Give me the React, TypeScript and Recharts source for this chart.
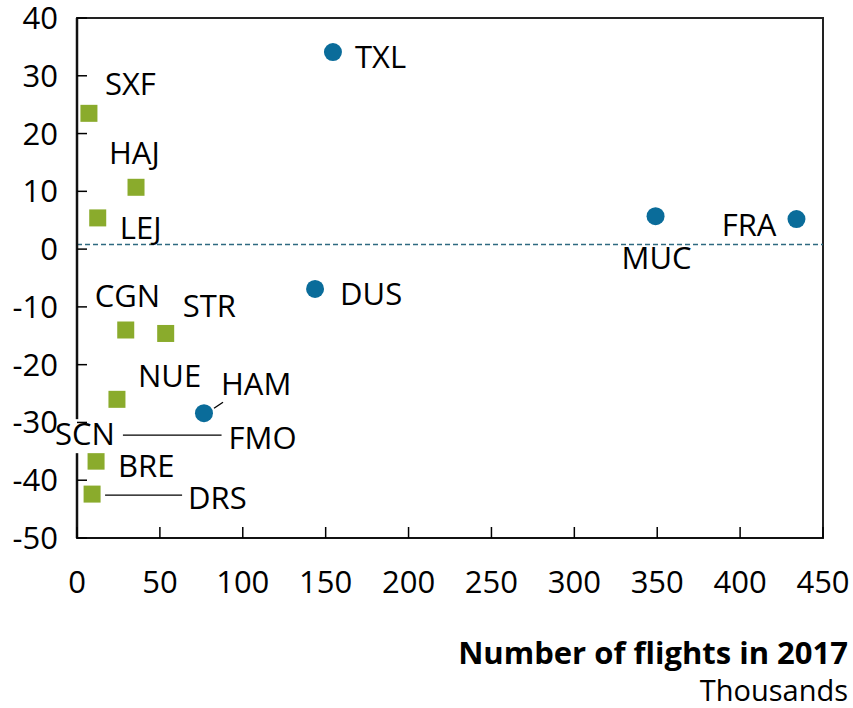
import { ReferenceArea, ReferenceLine, Scatter, ScatterChart, XAxis, YAxis } from "recharts";

// hub airports (blue circles)
const hubNames = ["TXL", "MUC", "FRA", "DUS", "HAM"];
const hubFlights = [154.4, 349, 434, 143.6, 76.6];
const hubChange = [34.1, 5.7, 5.2, -6.9, -28.4];

// other airports (green squares)
const otherNames = ["SXF", "HAJ", "LEJ", "CGN", "STR", "NUE", "BRE", "DRS"];
const otherFlights = [7.2, 35.6, 12.5, 29.4, 53.5, 24.1, 11.5, 9.1];
const otherChange = [23.5, 10.7, 5.4, -14.0, -14.6, -26.0, -36.7, -42.4];

// labels joined by a leader line, no marker shown
const leaderNames = ["SCN", "FMO"];
const leaderFlights = [27.7, 87.2];
const leaderChange = [-32.2, -32.2];

const avgChange = 0.8;
const xTicks = [0, 50, 100, 150, 200, 250, 300, 350, 400, 450];
const yTicks = [-50, -40, -30, -20, -10, 0, 10, 20, 30, 40];

const BLUE = "#0a6c9a";
const GREEN = "#8aab2c";
const FONT = "'Open Sans', sans-serif";

const zip = (names: string[], xs: number[], ys: number[]) =>
  names.map((name, i) => ({ name, flights: xs[i], change: ys[i] }));

const hubs = zip(hubNames, hubFlights, hubChange);
const others = zip(otherNames, otherFlights, otherChange);
const leaders = zip(leaderNames, leaderFlights, leaderChange);

type LabelPos = { dx: number; dy: number; anchor?: "start" | "end"; leader?: number[]; box?: boolean };

const labelPos: Record<string, LabelPos> = {
  TXL: { dx: 22, dy: 16 },
  MUC: { dx: -34, dy: 53 },
  FRA: { dx: -20, dy: 17, anchor: "end" },
  DUS: { dx: 25, dy: 16 },
  HAM: { dx: 17, dy: -18, leader: [10, -5, 19, -11] },
  SXF: { dx: 16, dy: -18 },
  HAJ: { dx: -27, dy: -23 },
  LEJ: { dx: 22, dy: 21 },
  CGN: { dx: -31, dy: -23 },
  STR: { dx: 17, dy: -16 },
  NUE: { dx: 21, dy: -12 },
  BRE: { dx: 22, dy: 16 },
  DRS: { dx: 96, dy: 15, leader: [13, 1, 90, 1] },
  SCN: { dx: -8, dy: 10, anchor: "end", box: true },
  FMO: { dx: 7, dy: 14 },
};

function makeShape(kind: "circle" | "square" | "none") {
  return (props: any) => {
    const { cx, cy, payload } = props;
    const p = labelPos[payload.name] ?? { dx: 12, dy: 0 };
    const anchor = p.anchor ?? "start";
    const tx = cx + p.dx;
    const ty = cy + p.dy;
    return (
      <g>
        {kind === "circle" && <circle cx={cx} cy={cy} r={9} fill={BLUE} />}
        {kind === "square" && <rect x={cx - 8.5} y={cy - 8.5} width={17} height={17} fill={GREEN} />}
        {p.leader && (
          <line
            x1={cx + p.leader[0]}
            y1={cy + p.leader[1]}
            x2={cx + p.leader[2]}
            y2={cy + p.leader[3]}
            stroke="#000"
            strokeWidth={1.3}
          />
        )}
        {p.box && <rect x={tx - 64} y={ty - 26} width={66} height={34} fill="#fff" />}
        <text x={tx} y={ty} textAnchor={anchor} fontFamily={FONT} fontSize={31} fill="#000">
          {payload.name}
        </text>
      </g>
    );
  };
}

const YTick = (props: any) => {
  const { x, y, payload } = props;
  return (
    <g>
      <line x1={x} x2={x + 10} y1={y} y2={y} stroke="#000" strokeWidth={1.5} />
      <text x={x - 19} y={y + 11} textAnchor="end" fontFamily={FONT} fontSize={31} fill="#000">
        {payload.value}
      </text>
    </g>
  );
};

const XTick = (props: any) => {
  const { x, y, payload } = props;
  return (
    <g>
      <line x1={x} x2={x} y1={y} y2={y - 11} stroke="#000" strokeWidth={1.5} />
      <text x={x} y={y + 55} textAnchor="middle" fontFamily={FONT} fontSize={31} fill="#000">
        {payload.value}
      </text>
    </g>
  );
};

export default function App() {
  return (
    <div style={{ position: "absolute", left: 0, top: 0, width: 853, height: 708, background: "#fff" }}>
      <ScatterChart width={853} height={708} margin={{ top: 18, right: 30, bottom: 110, left: 0 }}>
        <XAxis
          type="number"
          dataKey="flights"
          domain={[0, 450]}
          ticks={xTicks}
          height={60}
          tickSize={0}
          tickMargin={0}
          tickLine={false}
          tick={<XTick />}
          axisLine={{ stroke: "#111", strokeWidth: 2 }}
        />
        <YAxis
          type="number"
          dataKey="change"
          domain={[-50, 40]}
          ticks={yTicks}
          width={77}
          tickSize={0}
          tickMargin={0}
          tickLine={false}
          tick={<YTick />}
          axisLine={{ stroke: "#111", strokeWidth: 2.5 }}
        />
        <ReferenceArea x1={0} x2={450} y1={-50} y2={40} fill="none" stroke="#222" strokeWidth={2} />
        <ReferenceLine y={avgChange} stroke="#2e6a80" strokeWidth={1.5} strokeDasharray="5 3" />
        <Scatter data={others} shape={makeShape("square")} isAnimationActive={false} />
        <Scatter data={hubs} shape={makeShape("circle")} isAnimationActive={false} />
        <Scatter
          data={leaders}
          shape={makeShape("none")}
          line={{ stroke: "#000", strokeWidth: 1.3 }}
          isAnimationActive={false}
        />
      </ScatterChart>
      <div
        style={{
          position: "absolute",
          right: 5,
          top: 634,
          textAlign: "right",
          fontFamily: FONT,
          color: "#000",
          lineHeight: "37px",
        }}
      >
        <div style={{ fontWeight: 700, fontSize: 31 }}>Number of flights in 2017</div>
        <div style={{ fontSize: 29 }}>Thousands</div>
      </div>
    </div>
  );
}
